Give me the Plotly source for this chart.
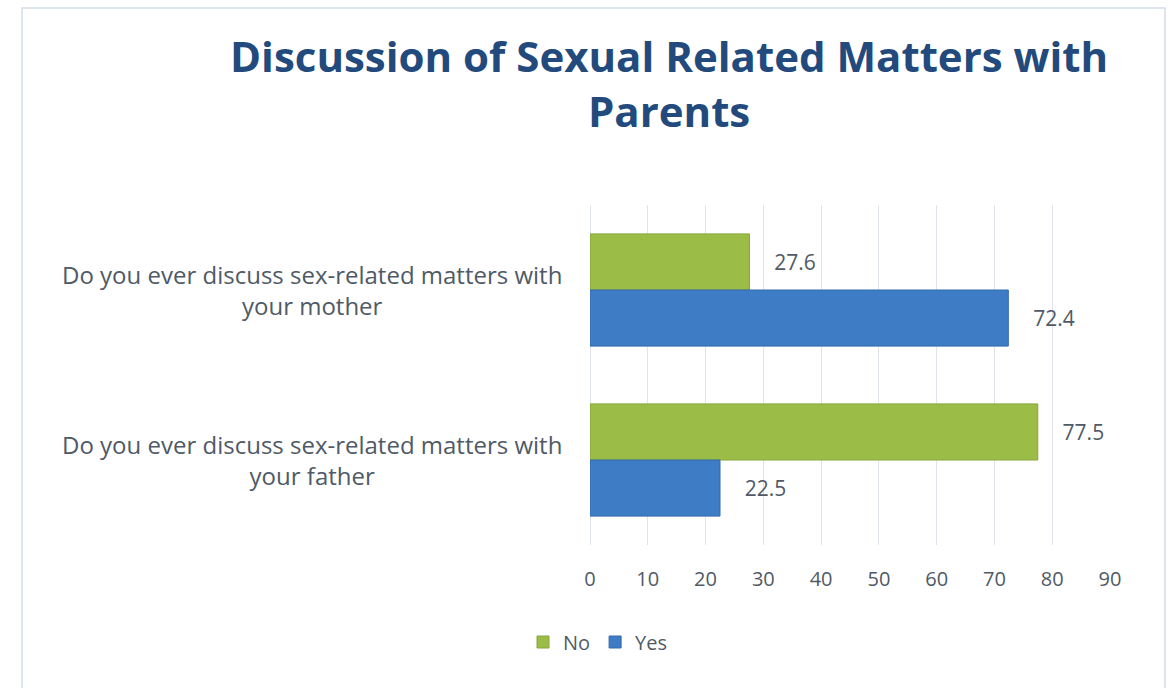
import plotly.graph_objects as go

# Survey questions (top to bottom) and response percentages
questions = [
    "Do you ever discuss sex-related matters with your mother",
    "Do you ever discuss sex-related matters with your father",
]
question_labels = [
    "Do you ever discuss sex-related matters with<br>your mother",
    "Do you ever discuss sex-related matters with<br>your father",
]
no_values = [27.6, 77.5]
yes_values = [72.4, 22.5]
x_ticks = [0, 10, 20, 30, 40, 50, 60, 70, 80, 90]

W, H = 1174, 688
L, R, T, B = 590, 64, 205, 143
pw, ph = W - L - R, H - T - B

GREEN = "#9bbd47"
BLUE = "#3e7cc6"
TEXT = "#4f5a66"
FONT = "Open Sans"


def px_x(px):
    return (px - L) / pw


def px_y(py):
    return (H - B - py) / ph


fig = go.Figure()
for name, vals, color, edge in [
    ("No", no_values, GREEN, "#86a63a"),
    ("Yes", yes_values, BLUE, "#336aad"),
]:
    fig.add_trace(go.Bar(
        name=name,
        y=questions,
        x=vals,
        orientation="h",
        marker=dict(color=color, line=dict(color=edge, width=1)),
        text=[f"{v:.1f}" for v in vals],
        texttemplate="\u00a0\u00a0\u00a0\u00a0%{text}",
        textposition="outside",
        textfont=dict(family=FONT, size=21, color=TEXT),
        cliponaxis=False,
    ))

# Category labels, centred line by line to the left of the bars
for q, lab in zip(questions, question_labels):
    fig.add_annotation(
        x=px_x(564), xref="paper", y=q, yref="y",
        text=lab, showarrow=False, xanchor="right", align="center",
        font=dict(family=FONT, size=24, color=TEXT),
    )

# Chart title
fig.add_annotation(
    x=px_x(669), xref="paper", y=px_y(25), yref="paper",
    text="<b>Discussion of Sexual Related Matters with<br>Parents</b>",
    showarrow=False, xanchor="center", yanchor="top", align="center",
    font=dict(family=FONT, size=42, color="#234a7c"),
)

# Outer chart frame
fig.add_shape(
    type="rect", xref="paper", yref="paper",
    x0=px_x(22), x1=px_x(1165), y0=px_y(700), y1=px_y(8),
    line=dict(color="#d5dde8", width=1.5), fillcolor="rgba(0,0,0,0)",
    layer="below",
)

fig.update_layout(
    width=W, height=H,
    margin=dict(l=L, r=R, t=T, b=B),
    paper_bgcolor="white", plot_bgcolor="white",
    barmode="group", bargap=0.34, bargroupgap=0,
    xaxis=dict(
        range=[0, 90], tickvals=x_ticks, showgrid=True,
        gridcolor="#dfe4ea", gridwidth=1, zeroline=True,
        zerolinecolor="#dfe4ea", zerolinewidth=1,
        ticks="outside", ticklen=16, tickcolor="rgba(0,0,0,0)",
        tickfont=dict(family=FONT, size=20, color=TEXT),
        showline=False, fixedrange=True,
    ),
    yaxis=dict(
        autorange="reversed", showticklabels=False, showgrid=False,
        showline=False, ticks="",
    ),
    legend=dict(
        orientation="h", x=598 / W, xref="container", xanchor="center",
        y=1 - 642 / H, yref="container", yanchor="middle",
        font=dict(family=FONT, size=20, color=TEXT),
        itemwidth=30,
    ),
    showlegend=True,
)

fig.write_html("out.html")
